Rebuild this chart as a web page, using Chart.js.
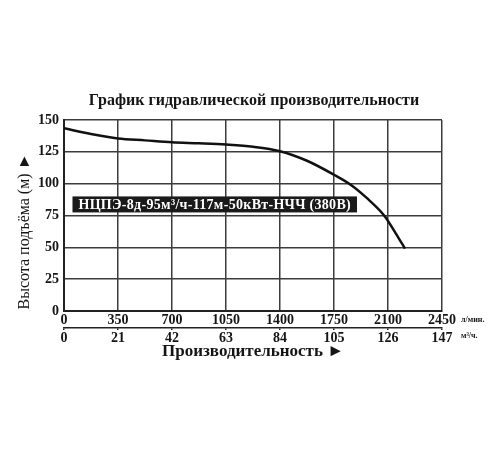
<!DOCTYPE html>
<html>
<head>
<meta charset="utf-8">
<script src="https://cdn.jsdelivr.net/npm/chart.js@4"></script>
<style>
  html, body { margin: 0; padding: 0; background: #fff; }
  #wrap { width: 500px; height: 450px; }
</style>
</head>
<body>
<div id="wrap"><canvas id="pumpChart" width="500" height="450"></canvas></div>
<script>
// flow in l/min and head in metres
const flowLpm = [0, 175, 350, 525, 700, 875, 1050, 1225, 1400, 1575, 1750, 1860, 1960, 2075, 2150, 2210];
const headM = [143.5, 139, 135.5, 134, 132.5, 131.7, 130.7, 129, 125.5, 118, 107, 99, 89, 75, 61, 49];

const lpmTicks = [0, 350, 700, 1050, 1400, 1750, 2100, 2450];
const m3hTicks = [0, 21, 42, 63, 84, 105, 126, 147];
const headTicks = [0, 25, 50, 75, 100, 125, 150];

const chartTitle = 'График гидравлической производительности';
const modelLabel = 'НЦПЭ-8д-95м³/ч-117м-50кВт-НЧЧ (380В)';
const labelAt = { x: 55, y: 83.7 };

const serif = "'Liberation Serif', 'DejaVu Serif', serif";
const ink = '#151515';
const gridColor = '#3c3c3c';
const tickFont = { family: serif, size: 14, weight: 'bold' };

// title over the plot, black model plate, unit captions next to the last ticks
const extras = {
    id: 'extras',
    afterDatasetsDraw(chart) {
        const ctx = chart.ctx;
        const area = chart.chartArea;
        const x = chart.scales.x;
        const y = chart.scales.y;
        const x2 = chart.scales.x2;

        ctx.save();
        ctx.fillStyle = ink;
        ctx.font = 'bold 16px ' + serif;
        ctx.textAlign = 'center';
        ctx.textBaseline = 'middle';
        ctx.fillText(chartTitle, (area.left + area.right) / 2 + 1, area.top - 19);

        ctx.textAlign = 'left';
        ctx.font = 'bold 14px ' + serif;
        ctx.letterSpacing = '0.3px';
        const w = ctx.measureText(modelLabel).width + 12;
        const px = x.getPixelForValue(labelAt.x);
        const py = y.getPixelForValue(labelAt.y);
        ctx.fillStyle = '#1a1a1a';
        ctx.fillRect(px, py - 8, w, 16);
        ctx.fillStyle = '#fff';
        ctx.fillText(modelLabel, px + 6, py + 1);

        ctx.letterSpacing = '0px';
        ctx.fillStyle = ink;
        ctx.font = 'bold 8px ' + serif;
        ctx.textBaseline = 'alphabetic';
        ctx.fillText('л/мин.', x.right + 19, x.top + 11);
        ctx.fillText('м³/ч.', x2.right + 19, x2.top + 10);
        ctx.restore();
    }
};

new Chart(document.getElementById('pumpChart'), {
    type: 'line',
    data: {
        datasets: [{
            data: flowLpm.map((f, i) => ({ x: f, y: headM[i] })),
            borderColor: '#111',
            borderWidth: 2.5,
            pointRadius: 0,
            cubicInterpolationMode: 'monotone',
            fill: false
        }]
    },
    options: {
        responsive: false,
        animation: false,
        layout: { padding: { left: 6, right: 58, top: 120, bottom: 88 } },
        plugins: {
            legend: { display: false },
            tooltip: { enabled: false },
            title: { display: false }
        },
        scales: {
            x: {
                type: 'linear',
                position: 'bottom',
                min: 0,
                max: 2450,
                afterBuildTicks: s => { s.ticks = lpmTicks.map(v => ({ value: v })); },
                grid: { color: gridColor, lineWidth: 1.5, drawTicks: false },
                border: { color: '#222', width: 2 },
                ticks: { color: ink, padding: 1, maxRotation: 0, font: tickFont, callback: v => String(v) },
                afterFit: s => { s.height = 17; }
            },
            x2: {
                type: 'linear',
                position: 'bottom',
                min: 0,
                max: 147,
                afterBuildTicks: s => { s.ticks = m3hTicks.map(v => ({ value: v })); },
                grid: { drawOnChartArea: false, drawTicks: true, tickLength: 2, color: '#222', lineWidth: 1.5 },
                border: { color: '#222', width: 1.5 },
                ticks: { color: ink, padding: 0, maxRotation: 0, font: tickFont, callback: v => String(v) },
                title: {
                    display: true,
                    text: 'Производительность ►',
                    color: ink,
                    font: { family: serif, size: 17, weight: 'bold' },
                    padding: { top: 0, bottom: 0 }
                },
                afterFit: s => { s.height = 34; }
            },
            y: {
                min: 0,
                max: 150,
                afterBuildTicks: s => { s.ticks = headTicks.map(v => ({ value: v })); },
                grid: { color: gridColor, lineWidth: 1.5, drawTicks: false },
                border: { color: '#222', width: 2 },
                ticks: { color: ink, padding: 5, font: tickFont },
                title: {
                    display: true,
                    text: 'Высота подъёма (м) ►\u00a0\u00a0\u00a0\u00a0\u00a0\u00a0\u00a0\u00a0',
                    color: ink,
                    font: { family: serif, size: 16 },
                    padding: { top: 9, bottom: 0 }
                },
                afterFit: s => { s.width = 58; }
            }
        }
    },
    plugins: [extras]
});
</script>
</body>
</html>
